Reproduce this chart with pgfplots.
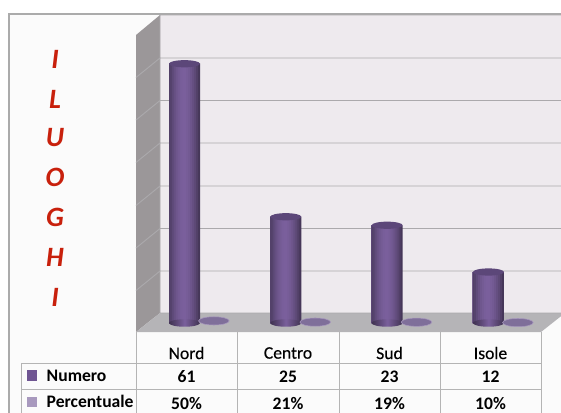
\documentclass[border=0pt]{standalone}
\usepackage{pgfplots}
\pgfplotsset{compat=1.18}
\usepackage{pgfplotstable}
\usetikzlibrary{shapes.geometric}
\usepackage{fontspec}
\setmainfont{Carlito}
\newfontfamily\medfont[FakeBold=0.25]{Carlito}
\definecolor{frameline}{HTML}{ABABAB}
\definecolor{panel}{HTML}{FBFBFB}
\definecolor{backwall}{HTML}{EEEAEE}
\definecolor{sidewall}{HTML}{9B9799}
\definecolor{floorc}{HTML}{B5B4B7}
\definecolor{gridc}{HTML}{ABA9AC}
\definecolor{tablec}{HTML}{B4B4B4}
\definecolor{barmid}{HTML}{7A5F9C}
\definecolor{baredge}{HTML}{3F3250}
\definecolor{bartop}{HTML}{5C4779}
\definecolor{numero}{HTML}{6F5592}
\definecolor{perc}{HTML}{A899BE}
\definecolor{disc}{HTML}{7F6F9A}
\definecolor{redtxt}{HTML}{C8200C}

\pgfplotstableread{
idx numero percentuale
0 61 0.50
1 25 0.21
2 23 0.19
3 12 0.10
}\datatable

\pgfplotsset{
  canvas/.style={scale only axis, width=420.75pt, height=309pt, hide axis},
}
\newcommand{\tabtxt}{\fontsize{13.2}{15}\selectfont}
% one layer of a cylinder body: width, shift, share of the light colour
\newcommand{\layer}[3]{\addplot[draw=none, fill=barmid!#3!baredge, bar width=#1pt, bar shift=#2pt]
  table[x=idx, y=numero] {\datatable};}

\begin{document}
\begin{tikzpicture}
% background, in picture pixels
\begin{axis}[canvas, xmin=0, xmax=561, ymin=0, ymax=412, y dir=reverse]
  \addplot[fill=white, draw=none] coordinates {(0,0)(561,0)(561,412)(0,412)} --cycle;
  \addplot[fill=panel, draw=frameline, line width=.9pt] coordinates {(9,14)(570,14)(570,420)(9,420)} --cycle;
  \addplot[fill=backwall, draw=none] coordinates {(160,15)(561,15)(561,313)(160,313)} --cycle;
  \addplot[fill=sidewall, draw=none] coordinates {(136,35)(160,15)(160,313)(136,332)} --cycle;
  \addplot[fill=floorc, draw=none] coordinates {(136,332)(160,313)(565,313)(541,332)} --cycle;
  \addplot[draw=gridc, line width=.7pt, unbounded coords=jump] coordinates {
    (136,77.5)(160,58)(561,58) (0,nan)
    (136,120)(160,100.5)(561,100.5) (0,nan)
    (136,162.5)(160,143)(561,143) (0,nan)
    (136,205.5)(160,186)(561,186) (0,nan)
    (136,248)(160,228.5)(561,228.5) (0,nan)
    (136,290.5)(160,271)(561,271) (0,nan)
    (160,15)(561,15) (0,nan)
    (160,15)(160,313)(561,313)
  };
  % data table lines
  \addplot[draw=tablec, line width=.75pt, unbounded coords=jump] coordinates {
    (136,332)(136,420) (0,nan)
    (237.5,332)(237.5,420) (0,nan)
    (339,332)(339,420) (0,nan)
    (440,332)(440,420) (0,nan)
    (541,332)(541,420) (0,nan)
    (21,363)(541,363) (0,nan)
    (21,389.5)(541,389.5) (0,nan)
    (21,363)(21,420)
  };
  \addplot[fill=numero, draw=none] coordinates {(27,370)(37,370)(37,381)(27,381)} --cycle;
  \addplot[fill=perc, draw=none] coordinates {(27,397)(37,397)(37,407)(27,407)} --cycle;
  \foreach \c/\y in {I/59,L/99,U/138,O/177,G/217,H/257,I/297}{
    \edef\tmp{\noexpand\node[text=redtxt, font=\noexpand\fontsize{21}{24}\noexpand\selectfont\noexpand\bfseries\noexpand\itshape] at (axis cs:55,\y) {\c};}
    \tmp
  }
  \foreach \n/\x in {Nord/186.5,Centro/288,Sud/389.5,Isole/490.5}{
    \edef\tmp{\noexpand\node[font=\noexpand\tabtxt\noexpand\medfont] at (axis cs:\x,353) {\n};}
    \tmp
  }
  \foreach \n/\x in {61/186.5,25/288,23/389.5,12/490.5}{
    \edef\tmp{\noexpand\node[font=\noexpand\tabtxt\noexpand\bfseries] at (axis cs:\x,377) {\n};}
    \tmp
  }
  \foreach \n/\x in {50/186.5,21/288,19/389.5,10/490.5}{
    \edef\tmp{\noexpand\node[font=\noexpand\tabtxt\noexpand\bfseries] at (axis cs:\x,403) {\n\noexpand\%};}
    \tmp
  }
  \node[font=\tabtxt\bfseries, anchor=base west] at (axis cs:42,381) {Numero};
  \node[font=\tabtxt\bfseries, anchor=base west] at (axis cs:42,407.5) {Percentuale};
\end{axis}
% data: x is the category index, y the value
\begin{axis}[canvas, xmin=-1.8208, xmax=3.7156, ymin=-20.94, ymax=76,
  ybar, clip=false]
  % rounded foot of each cylinder
  \addplot[draw=none, fill=none, bar shift=0pt, bar width=23.25pt,
    nodes near coords={},
    every node near coord/.style={ellipse, anchor=center, inner sep=0pt,
      minimum width=23.25pt, minimum height=5.6pt,
      left color=baredge, right color=baredge, middle color=barmid}]
    table[x=idx, y expr=0] {\datatable};
  % cylinder body: bars painted right to left, each one narrower, dark at the edges
  \layer{23.25}{0}{12}
  \layer{21.75}{-.75}{32}
  \layer{20.25}{-1.5}{50}
  \layer{18.75}{-2.25}{65}
  \layer{17.25}{-3}{78}
  \layer{15.75}{-3.75}{88}
  \layer{14.25}{-4.5}{95}
  \layer{12.75}{-5.25}{100}
  \layer{11.25}{-6}{100}
  \layer{9.75}{-6.75}{97}
  \layer{8.25}{-7.5}{90}
  \layer{6.75}{-8.25}{82}
  \layer{5.25}{-9}{70}
  \layer{3.75}{-9.75}{55}
  \layer{2.25}{-10.5}{38}
  \layer{.75}{-11.25}{30}
  \addplot[draw=none, fill=none, bar shift=0pt, bar width=23.25pt,
    nodes near coords={},
    every node near coord/.style={ellipse, anchor=center, inner sep=0pt,
      minimum width=23.25pt, minimum height=5.4pt, fill=bartop}]
    table[x=idx, y=numero] {\datatable};
  % percentuale: fractions, so they stay flat on the floor
  \addplot[draw=none, fill=none, bar shift=0pt, bar width=23pt,
    nodes near coords={},
    every node near coord/.style={ellipse, anchor=center, inner sep=0pt,
      minimum width=23pt, minimum height=6.2pt, fill=disc, draw=perc, line width=.4pt}]
    table[x expr=\thisrow{idx}+0.29, y=percentuale] {\datatable};
\end{axis}
\end{tikzpicture}
\end{document}
